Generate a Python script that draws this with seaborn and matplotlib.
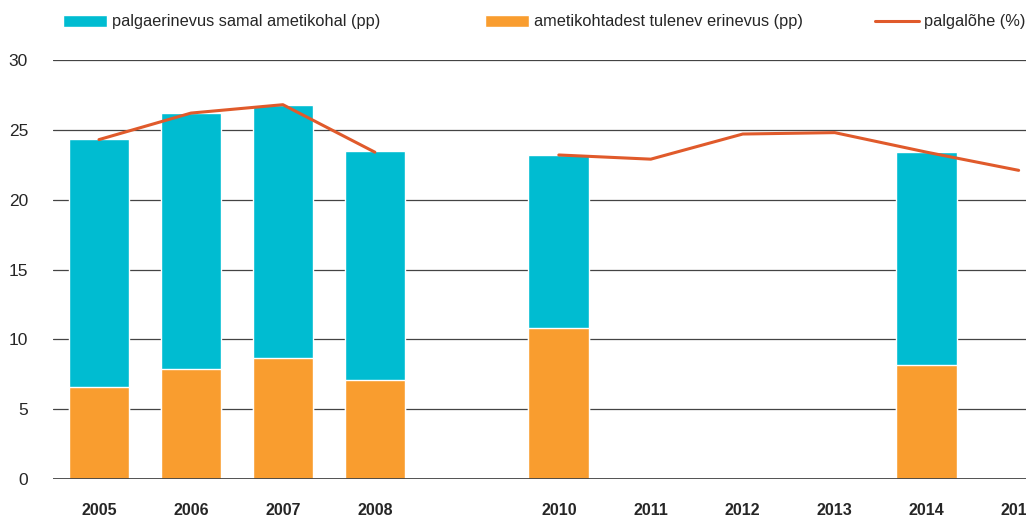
import numpy as np
import pandas as pd
import matplotlib
matplotlib.use("Agg")
import matplotlib.pyplot as plt
import seaborn as sns
from matplotlib.patches import Patch
from matplotlib.lines import Line2D

# data
years = ["2005", "2006", "2007", "2008", "2009", "2010", "2011", "2012", "2013", "2014", "2015"]
bar_years = ["2005", "2006", "2007", "2008", "2010", "2014"]
same_job = [17.75, 18.33, 18.11, 16.39, 12.38, 15.24]     # palgaerinevus samal ametikohal (pp)
job_based = [6.59, 7.87, 8.66, 7.09, 10.81, 8.16]         # ametikohtadest tulenev erinevus (pp)
pay_gap = [24.3, 26.2, 26.8, 23.4, np.nan, 23.2, 22.9, 24.7, 24.8, 23.4, 22.1]  # palgalõhe (%)

cyan = "#00BCD1"
orange = "#F99D2F"
red = "#E05A2B"

sns.set_style("white")
plt.rcParams["font.family"] = ["Liberation Sans", "DejaVu Sans"]

df = pd.DataFrame({"year": bar_years, "same": same_job, "job": job_based})
df["total"] = df["same"] + df["job"]

fig = plt.figure(figsize=(10.26, 5.19), dpi=100)
ax = fig.add_axes([53 / 1026, 40 / 519, 1 - 53 / 1026, 419 / 519])

sns.barplot(data=df, x="year", y="total", order=years, color=cyan, width=0.66,
            saturation=1, ax=ax, zorder=3)
sns.barplot(data=df, x="year", y="job", order=years, color=orange, width=0.66,
            saturation=1, ax=ax, zorder=4)
ax.plot(range(len(years)), pay_gap, color=red, lw=2.2, zorder=5)

ax.set_ylim(0, 30)
ax.set_xlim(-0.5, 10.08)
ax.set_yticks(range(0, 31, 5))
for y in range(5, 31, 5):
    ax.axhline(y, color="#444444", lw=0.9, zorder=1)
ax.axhline(0, color="#444444", lw=1.3, zorder=6)
sns.despine(ax=ax, left=True, bottom=True, top=True, right=True)

ax.set_xlabel("")
ax.set_ylabel("")
ax.set_xticks(range(len(years)))
ax.set_xticklabels([y if y != "2009" else "" for y in years], fontweight="bold", fontsize=11.5)
ax.tick_params(axis="x", length=0, pad=17)
ax.tick_params(axis="y", length=0, labelsize=12.5, pad=18)

# legend entries placed along the top
entries = [
    (Patch(facecolor=cyan), "palgaerinevus samal ametikohal (pp)", 63),
    (Patch(facecolor=orange), "ametikohtadest tulenev erinevus (pp)", 485),
    (Line2D([], [], color=red, lw=2.2), "palgalõhe (%)", 875),
]
for handle, label, xpix in entries:
    leg = fig.legend([handle], [label], loc="center left",
                     bbox_to_anchor=(xpix / 1026, 1 - 22 / 519), frameon=False,
                     fontsize=11.8, handlelength=2.7, handleheight=0.8, handletextpad=0.3,
                     borderaxespad=0, borderpad=0)

fig.savefig("out.png", dpi=100)
